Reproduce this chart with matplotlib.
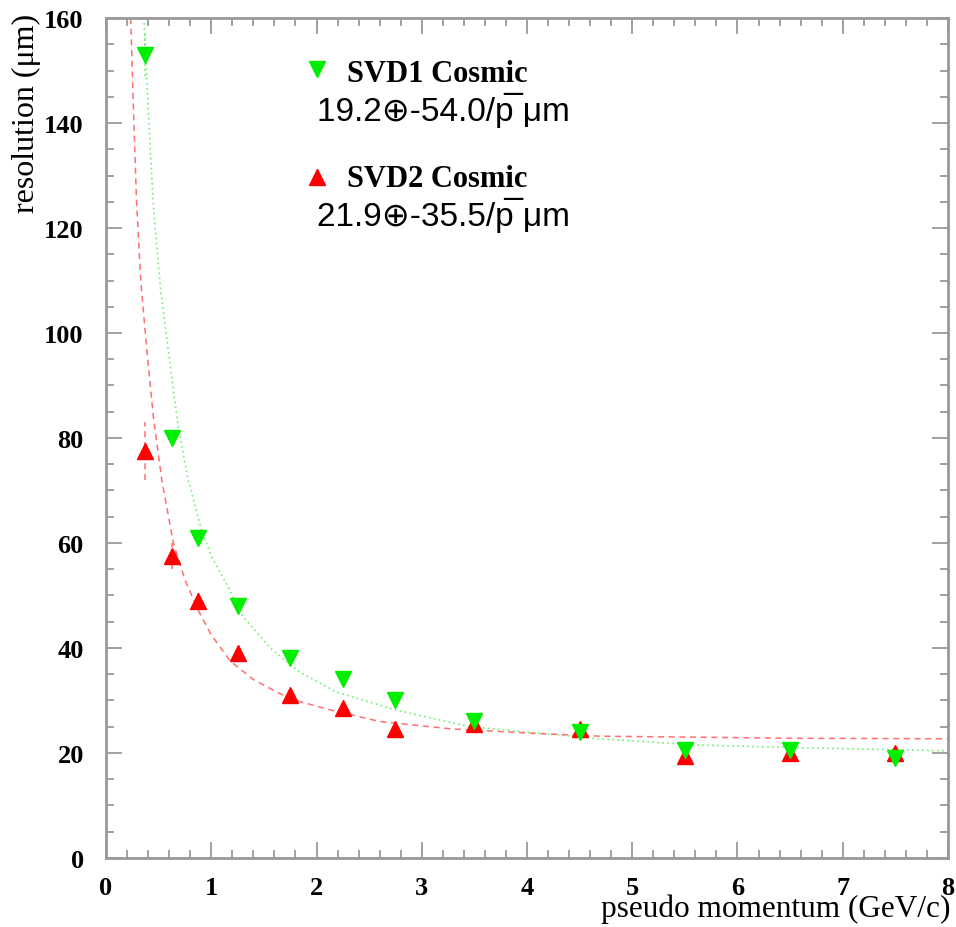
import matplotlib
matplotlib.use("Agg")
import matplotlib.pyplot as plt
from matplotlib.ticker import MultipleLocator

# measured points
momentum = [0.375, 0.625, 0.875, 1.25, 1.75, 2.25, 2.75, 3.5, 4.5, 5.5, 6.5, 7.5]
svd1_res = [153, 80, 61, 48, 38, 34, 30, 26, 24, 20.5, 20.5, 19]
svd1_err = [4, 1.5, 1, 1, 0.8, 0.8, 0.6, 0.6, 0.6, 0.5, 0.5, 0.5]
svd2_res = [77.5, 57.5, 49, 39, 31, 28.5, 24.5, 25.5, 24.5, 19.5, 20, 20]
svd2_err = [5.5, 2.5, 1.5, 1, 0.8, 0.8, 0.6, 0.6, 0.6, 0.5, 0.5, 0.5]

# fit curves
svd1_fit_p = [0.36, 0.40, 0.45, 0.52, 0.59, 0.68, 0.78, 0.9, 1.0, 1.15, 1.3, 1.56,
              1.84, 2.2, 2.79, 3.46, 4.0, 4.69, 5.64, 6.59, 8.0]
svd1_fit_r = [160, 143, 124, 108, 97, 83, 72, 63, 57.5, 52, 46, 40,
              35.4, 31.5, 28, 25, 24, 22.7, 21.5, 21, 20.4]
svd2_fit_p = [0.235, 0.26, 0.29, 0.33, 0.386, 0.45, 0.53, 0.64, 0.75, 0.87, 1.0, 1.18,
              1.4, 1.65, 1.84, 2.13, 2.6, 3.27, 4.0, 4.69, 5.64, 6.5, 8.0]
svd2_fit_r = [160, 143, 125, 110, 97, 84, 72, 60, 53, 47.4, 42.5, 37.5,
              34, 31.3, 29.8, 28.2, 26, 24.6, 23.8, 23.2, 23.0, 22.8, 22.7]

svd1_label = "SVD1 Cosmic"
svd1_formula = "19.2\u2295-54.0/p\u0305 \u03bcm"
svd2_label = "SVD2 Cosmic"
svd2_formula = "21.9\u2295-35.5/p\u0305 \u03bcm"

serif = ["Liberation Serif", "DejaVu Serif"]
sans = ["Liberation Sans", "DejaVu Sans"]

fig = plt.figure(figsize=(9.56, 9.28), dpi=100)
ax = fig.add_axes([0.1109, 0.0744, 0.8807, 0.9051])

ax.plot(svd1_fit_p, svd1_fit_r, color="#70f070", linestyle=(0, (1, 2)), linewidth=1.2)
ax.plot(svd2_fit_p, svd2_fit_r, color="#ff7070", linestyle=(0, (4, 3)), linewidth=1.1)

eb1 = ax.errorbar(momentum, svd1_res, yerr=svd1_err, fmt="none", ecolor="#70f070", elinewidth=1.2)
eb1[2][0].set_linestyle((0, (1, 2)))
eb2 = ax.errorbar(momentum, svd2_res, yerr=svd2_err, fmt="none", ecolor="#ff7070", elinewidth=1.1)
eb2[2][0].set_linestyle((0, (4, 3)))

ax.plot(momentum, svd2_res, linestyle="none", marker="^", color="#ff0000", markersize=11)
ax.plot(momentum, svd1_res, linestyle="none", marker="v", color="#00ee00", markersize=11)

ax.set_xlim(0, 8)
ax.set_ylim(0, 160)
ax.xaxis.set_major_locator(MultipleLocator(1))
ax.xaxis.set_minor_locator(MultipleLocator(0.2))
ax.yaxis.set_major_locator(MultipleLocator(20))
ax.yaxis.set_minor_locator(MultipleLocator(5))
ax.tick_params(which="both", direction="in", top=True, right=True, color="#999999", width=1.3)
ax.tick_params(which="major", length=11.5, labelsize=19)
ax.tick_params(which="minor", length=5.8)
ax.tick_params(axis="x", which="major", pad=13)
ax.tick_params(axis="y", which="major", pad=16)
for lab in ax.get_xticklabels() + ax.get_yticklabels():
    lab.set_family(serif)
    lab.set_fontweight("bold")
for sp in ax.spines.values():
    sp.set_color("#999999")
    sp.set_linewidth(2)

fig.text(0.028, 0.985, "resolution (\u03bcm)", rotation=90, ha="center", va="top",
         fontsize=23, family=serif)
fig.text(0.994, 0.004, "pseudo momentum (GeV/c)", ha="right", va="bottom",
         fontsize=22.5, family=serif)

# legend-like annotations
ax.plot([2.0], [150.3], linestyle="none", marker="v", color="#00ee00", markersize=11)
ax.text(2.29, 148.0, svd1_label, fontsize=22, fontweight="bold", family=serif, va="baseline")
ax.text(2.0, 140.6, svd1_formula, fontsize=24, family=sans, va="baseline")
ax.plot([2.0], [129.7], linestyle="none", marker="^", color="#ff0000", markersize=11)
ax.text(2.29, 128.0, svd2_label, fontsize=22, fontweight="bold", family=serif, va="baseline")
ax.text(2.0, 120.6, svd2_formula, fontsize=24, family=sans, va="baseline")

fig.savefig("out.png", dpi=100)
